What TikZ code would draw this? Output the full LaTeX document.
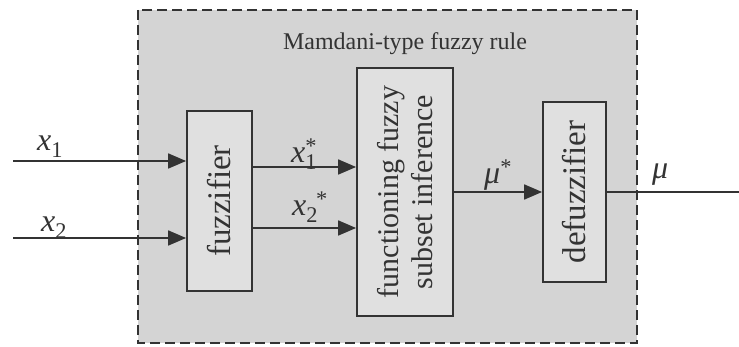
\documentclass[tikz,border=0pt]{standalone}
\usepackage{fontspec}
\setmainfont{Liberation Serif}
\usetikzlibrary{arrows.meta}
\definecolor{bg}{HTML}{D4D4D4}
\definecolor{boxfill}{HTML}{E0E0E0}
\definecolor{ink}{HTML}{333333}
\tikzset{
  blk/.style={draw=ink, line width=1.8pt, fill=boxfill, inner sep=0pt},
  rtext/.style={rotate=90, inner sep=0pt, text=ink},
  conn/.style={draw=ink, line width=1.8pt},
  arr/.style={conn, -{Triangle[length=18pt,width=15pt]}},
  lbl/.style={inner sep=0pt, anchor=base west, text=ink, font=\fontsize{32}{36}\selectfont\itshape}
}
\begin{document}
\begin{tikzpicture}[x=1pt,y=-1pt]
\useasboundingbox (0,0) rectangle (739,347);
% outer dashed frame
\draw[fill=bg, draw=ink, line width=1.8pt, dash pattern=on 10pt off 5pt] (138,10) rectangle (637,343);
\node[text=ink, font=\fontsize{24}{28}\selectfont, anchor=base] (title) at (405,50) {Mamdani-type fuzzy rule};
% blocks
\node[blk, minimum width=65pt, minimum height=180pt] (fuzz) at (219.5,201) {};
\node[rtext, font=\fontsize{33}{38}\selectfont] (fuzzt) at (fuzz.center) {fuzzifier};
\node[blk, minimum width=96pt, minimum height=248pt] (inf) at (405,192) {};
\node[rtext, font=\fontsize{30}{34}\selectfont, align=center] (inft) at (inf.center) {functioning fuzzy\\subset inference};
\node[blk, minimum width=63pt, minimum height=180pt] (def) at (574.5,192) {};
\node[rtext, font=\fontsize{33}{38}\selectfont] (deft) at (def.center) {defuzzifier};
% free ends
\coordinate (in1) at (13,161);
\coordinate (in2) at (13,238);
\coordinate (out) at (739,192);
% connectors
\draw[arr] (in1) -- (in1 -| fuzz.west);
\draw[arr] (in2) -- (in2 -| fuzz.west);
\draw[arr] (fuzz.east |- 0,167) -- (inf.west |- 0,167);
\draw[arr] (fuzz.east |- 0,228) -- (inf.west |- 0,228);
\draw[arr] (inf.east) -- (def.west);
\draw[conn] (def.east) -- (out);
% labels
\node[lbl] (lx1) at (37,151) {x\textsubscript{\upshape 1}};
\node[lbl] (lx2) at (41,232) {x\textsubscript{\upshape 2}};
\node[lbl] (lx1s) at (291,163) {x\rlap{\textsubscript{\upshape 1}}\textsuperscript{\upshape *}};
\node[lbl] (lx2s) at (292,216) {x\textsubscript{\upshape 2}\kern-2pt\textsuperscript{\upshape *}};
\node[lbl] (lmus) at (484,184) {μ\textsuperscript{\upshape *}};
\node[lbl] (lmu) at (652,179) {μ};
\end{tikzpicture}
\end{document}
